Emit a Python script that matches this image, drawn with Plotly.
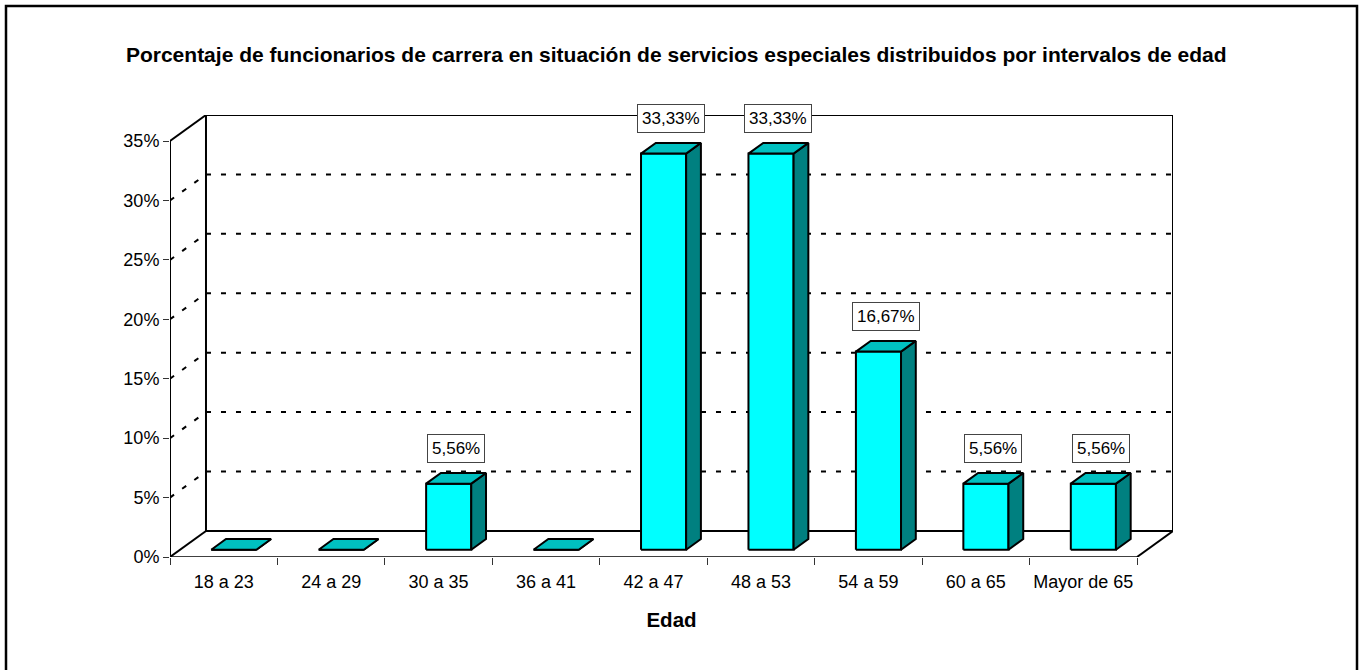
import plotly.graph_objects as go

# ---- data ---------------------------------------------------------------
categories = ["18 a 23", "24 a 29", "30 a 35", "36 a 41", "42 a 47",
              "48 a 53", "54 a 59", "60 a 65", "Mayor de 65"]
percentages = [0, 0, 5.56, 0, 33.33, 33.33, 16.67, 5.56, 5.56]
y_ticks = [0, 5, 10, 15, 20, 25, 30, 35]
y_tick_labels = [f"{v}%" for v in y_ticks]

TITLE = ("Porcentaje de funcionarios de carrera en situación de servicios "
         "especiales distribuidos por intervalos de edad")
X_TITLE = "Edad"

# ---- layout geometry ----------------------------------------------------
W, H = 1362, 670
PLOT_L, PLOT_R, PLOT_T, PLOT_B = 170, 1173, 115, 557
FONT = "Liberation Sans, Arial, sans-serif"

Y_MAX = 35
DEPTH_X = 0.335      # oblique depth offset, category units
DEPTH_Y = 2.19       # oblique depth offset, percent units
BAR_W = 0.42         # bar width, category units
BAR_FRONT = 0.28     # depth fraction of bar front face
BAR_DEPTH = 0.41     # depth fraction occupied by the bar

FRONT_COL = "#00FFFF"
TOP_COL = "#00C0C0"
SIDE_COL = "#008080"

n = len(categories)
x_max = n + DEPTH_X
y_max = Y_MAX + DEPTH_Y

fig = go.Figure()


def face(xs, ys, color):
    fig.add_trace(go.Scatter(
        x=xs + [xs[0]], y=ys + [ys[0]], mode="lines", fill="toself",
        fillcolor=color, line=dict(color="black", width=2),
        hoverinfo="skip", showlegend=False))


# ---- 3D bars ------------------------------------------------------------
fx, fy = BAR_FRONT * DEPTH_X, BAR_FRONT * DEPTH_Y
bx, by = BAR_DEPTH * DEPTH_X, BAR_DEPTH * DEPTH_Y
annotations = []
for i, v in enumerate(percentages):
    x0 = i + 0.5 - BAR_W / 2 + fx
    x1 = x0 + BAR_W
    y0 = fy
    y1 = v + fy
    face([x0, x1, x1, x0], [y0, y0, y1, y1], FRONT_COL)
    face([x1, x1 + bx, x1 + bx, x1], [y0, y0 + by, y1 + by, y1], SIDE_COL)
    face([x0, x1, x1 + bx, x0 + bx], [y1, y1, y1 + by, y1 + by], TOP_COL)
    if v > 0:
        annotations.append(dict(
            x=i + 0.5 + fx + bx / 2, y=v + fy + by, xref="x", yref="y",
            text=f"{v:.2f}".replace(".", ",") + "%", showarrow=False,
            yanchor="middle", yshift=24,
            font=dict(family=FONT, size=17, color="black"),
            bgcolor="white", bordercolor="#444444", borderwidth=1,
            borderpad=4))

# ---- walls, floor and gridlines ----------------------------------------
shapes = []


def seg(xa, ya, xb, yb, width=2, dash="solid"):
    shapes.append(dict(type="line", xref="x", yref="y", x0=xa, y0=ya,
                       x1=xb, y1=yb, layer="below",
                       line=dict(color="black", width=width, dash=dash)))


for t in y_ticks[1:-1]:
    seg(DEPTH_X, t + DEPTH_Y, n + DEPTH_X, t + DEPTH_Y, 2, "5px,10px")
    seg(0, t, DEPTH_X, t + DEPTH_Y, 2, "5px,10px")

# back wall
seg(DEPTH_X, DEPTH_Y, DEPTH_X, Y_MAX + DEPTH_Y)
seg(DEPTH_X, Y_MAX + DEPTH_Y, n + DEPTH_X, Y_MAX + DEPTH_Y)
seg(n + DEPTH_X, Y_MAX + DEPTH_Y, n + DEPTH_X, DEPTH_Y)
seg(DEPTH_X, DEPTH_Y, n + DEPTH_X, DEPTH_Y)
# side wall
seg(0, 0, 0, Y_MAX)
seg(0, Y_MAX, DEPTH_X, Y_MAX + DEPTH_Y)
# floor
seg(0, 0, DEPTH_X, DEPTH_Y)
seg(0, 0, n, 0, 1.5)
seg(n, 0, n + DEPTH_X, DEPTH_Y, 2)


# outer chart frame
def px_x(p):
    return (p - PLOT_L) / (PLOT_R - PLOT_L)


def px_y(p):
    return (PLOT_B - p) / (PLOT_B - PLOT_T)


shapes.append(dict(type="rect", xref="paper", yref="paper",
                   x0=px_x(6), x1=px_x(1357), y0=px_y(6), y1=px_y(690),
                   line=dict(color="black", width=2.5), layer="below"))

fig.update_layout(
    width=W, height=H,
    margin=dict(l=PLOT_L, r=W - PLOT_R, t=PLOT_T, b=H - PLOT_B),
    paper_bgcolor="white", plot_bgcolor="white",
    font=dict(family=FONT, size=18, color="black"),
    title=dict(text=f"<b>{TITLE}</b>", xref="container", yref="container",
               x=0.4965, y=1 - 55 / H, xanchor="center", yanchor="middle",
               font=dict(family=FONT, size=21, color="black")),
    shapes=shapes,
    annotations=annotations,
    xaxis=dict(
        range=[0, x_max], showgrid=False, zeroline=False, showline=False,
        tickmode="array", tickvals=[i + 0.5 for i in range(n)],
        ticktext=categories, ticks="outside", ticklen=8,
        tickcolor="rgba(0,0,0,0)", fixedrange=True,
        tickfont=dict(family=FONT, size=18),
        minor=dict(tickmode="array", tickvals=list(range(n + 1)),
                   ticks="outside", ticklen=7, tickwidth=1,
                   tickcolor="#333333", showgrid=False),
        title=dict(text=f"<b>{X_TITLE}</b>", standoff=22,
                   font=dict(family=FONT, size=20.5)),
    ),
    yaxis=dict(
        range=[0, y_max], showgrid=False, zeroline=False, showline=False,
        tickmode="array", tickvals=y_ticks, ticktext=y_tick_labels,
        ticks="outside", ticklen=6, tickwidth=1, tickcolor="#333333",
        tickfont=dict(family=FONT, size=18), fixedrange=True,
    ),
)

fig.write_html("out.html")
